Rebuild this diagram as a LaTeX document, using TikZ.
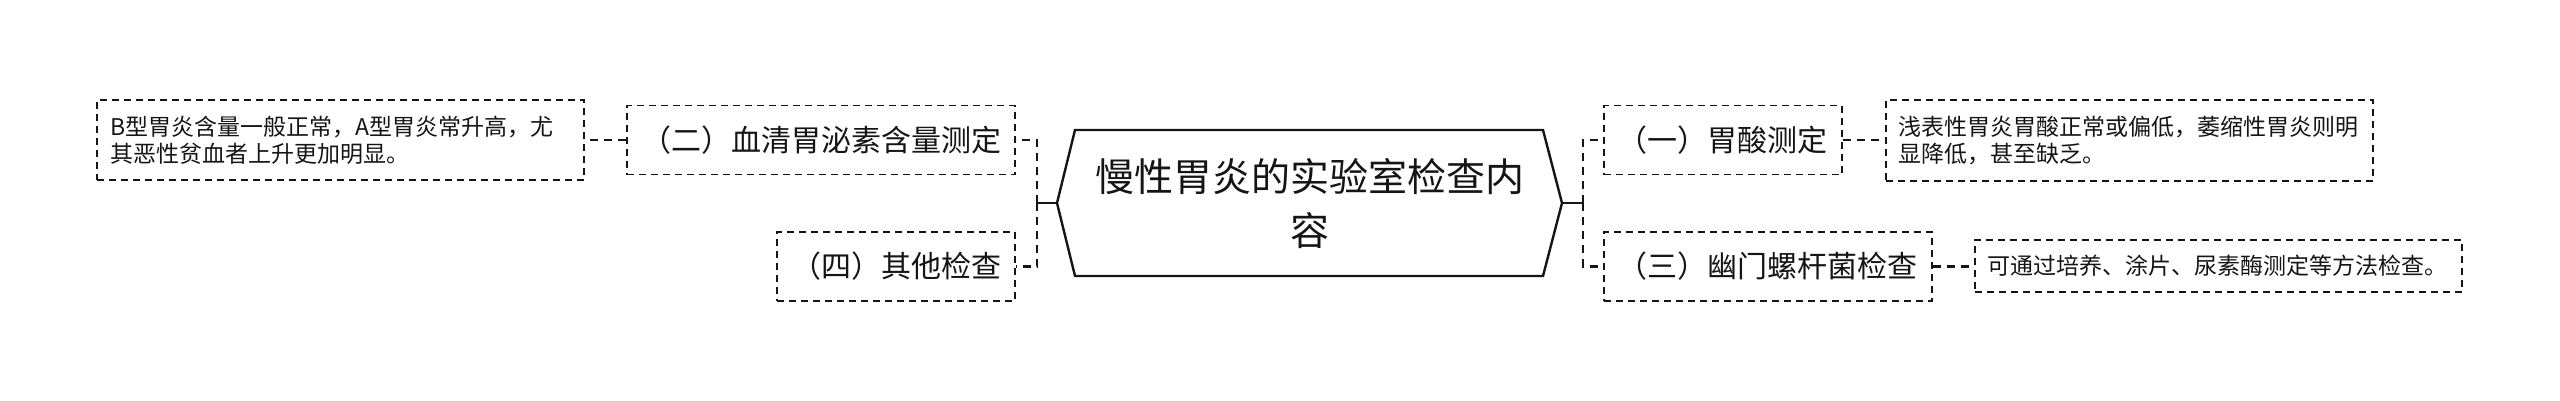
\documentclass[tikz,border=0pt]{standalone}
\usepackage{fontspec}
\setmainfont{Noto Sans CJK SC}
\definecolor{ink}{HTML}{151515}
\begin{document}
\begin{tikzpicture}[x=1pt,y=-1pt,
  every node/.style={text=ink},
  box/.style={draw=ink, line width=1.8pt, dash pattern=on 7pt off 5pt, inner ysep=0pt, inner xsep=14pt, minimum height=69pt, font=\fontsize{30}{36}\selectfont},
  leaf/.style={draw=ink, line width=1.8pt, dash pattern=on 7pt off 5pt, inner xsep=13pt, inner ysep=0pt, text width=461pt, align=left, font=\fontsize{23}{27}\selectfont},
  conn/.style={draw=ink, line width=2.4pt, dash pattern=on 8pt off 6pt},
  link/.style={draw=ink, line width=2.4pt},
  hex/.style={draw=ink, line width=2.4pt, line join=miter}]
\useasboundingbox (0,0) rectangle (2560,400);
\fill[white] (0,0) rectangle (2560,400);

% root
\coordinate (rL) at (1057,203);
\coordinate (rR) at (1562,203);
\draw[hex] (1075,130) -- (1543,130) -- (rR) -- (1543,276) -- (1075,276) -- (rL) -- cycle;
\node[font=\fontsize{39}{54}\selectfont, align=center] (root) at (1309.5,203) {慢性胃炎的实验室检查内\\容};

% children
\node[box, anchor=east] (n2) at (1016,140) {（二）血清胃泌素含量测定};
\node[box, anchor=east] (n4) at (1016,266.5) {（四）其他检查};
\node[box, anchor=west] (n1) at (1603,140) {（一）胃酸测定};
\node[box, anchor=west] (n3) at (1603,266.5) {（三）幽门螺杆菌检查};

% leaves
\node[leaf, minimum height=80pt, anchor=east] (l2) at (585,140) {B型胃炎含量一般正常，A型胃炎常升高，尤\\其恶性贫血者上升更加明显。};
\node[leaf, minimum height=81pt, anchor=west] (l1) at (1885,140.5) {浅表性胃炎胃酸正常或偏低，萎缩性胃炎则明\\显降低，甚至缺乏。};
\node[leaf, minimum height=52pt, anchor=west] (l3) at (1974,266) {可通过培养、涂片、尿素酶测定等方法检查。};

% connectors
\coordinate (jL) at (1037,203);
\coordinate (jR) at (1583,203);
\draw[link] (rL) -- (jL);
\draw[link] ([yshift=-8pt]jL) -- ([yshift=8pt]jL);
\draw[link] (rR) -- (jR);
\draw[link] ([yshift=-8pt]jR) -- ([yshift=8pt]jR);
\draw[conn] (jL) |- (n2.east);
\draw[conn] (jL) |- (n4.east);
\draw[conn] (jR) |- (n1.west);
\draw[conn] (jR) |- (n3.west);
\draw[conn] (n2.west) -- (n2.west -| l2.east);
\draw[conn] (n1.east) -- (n1.east -| l1.west);
\draw[conn] (n3.east) -- (n3.east -| l3.west);
\end{tikzpicture}
\end{document}
